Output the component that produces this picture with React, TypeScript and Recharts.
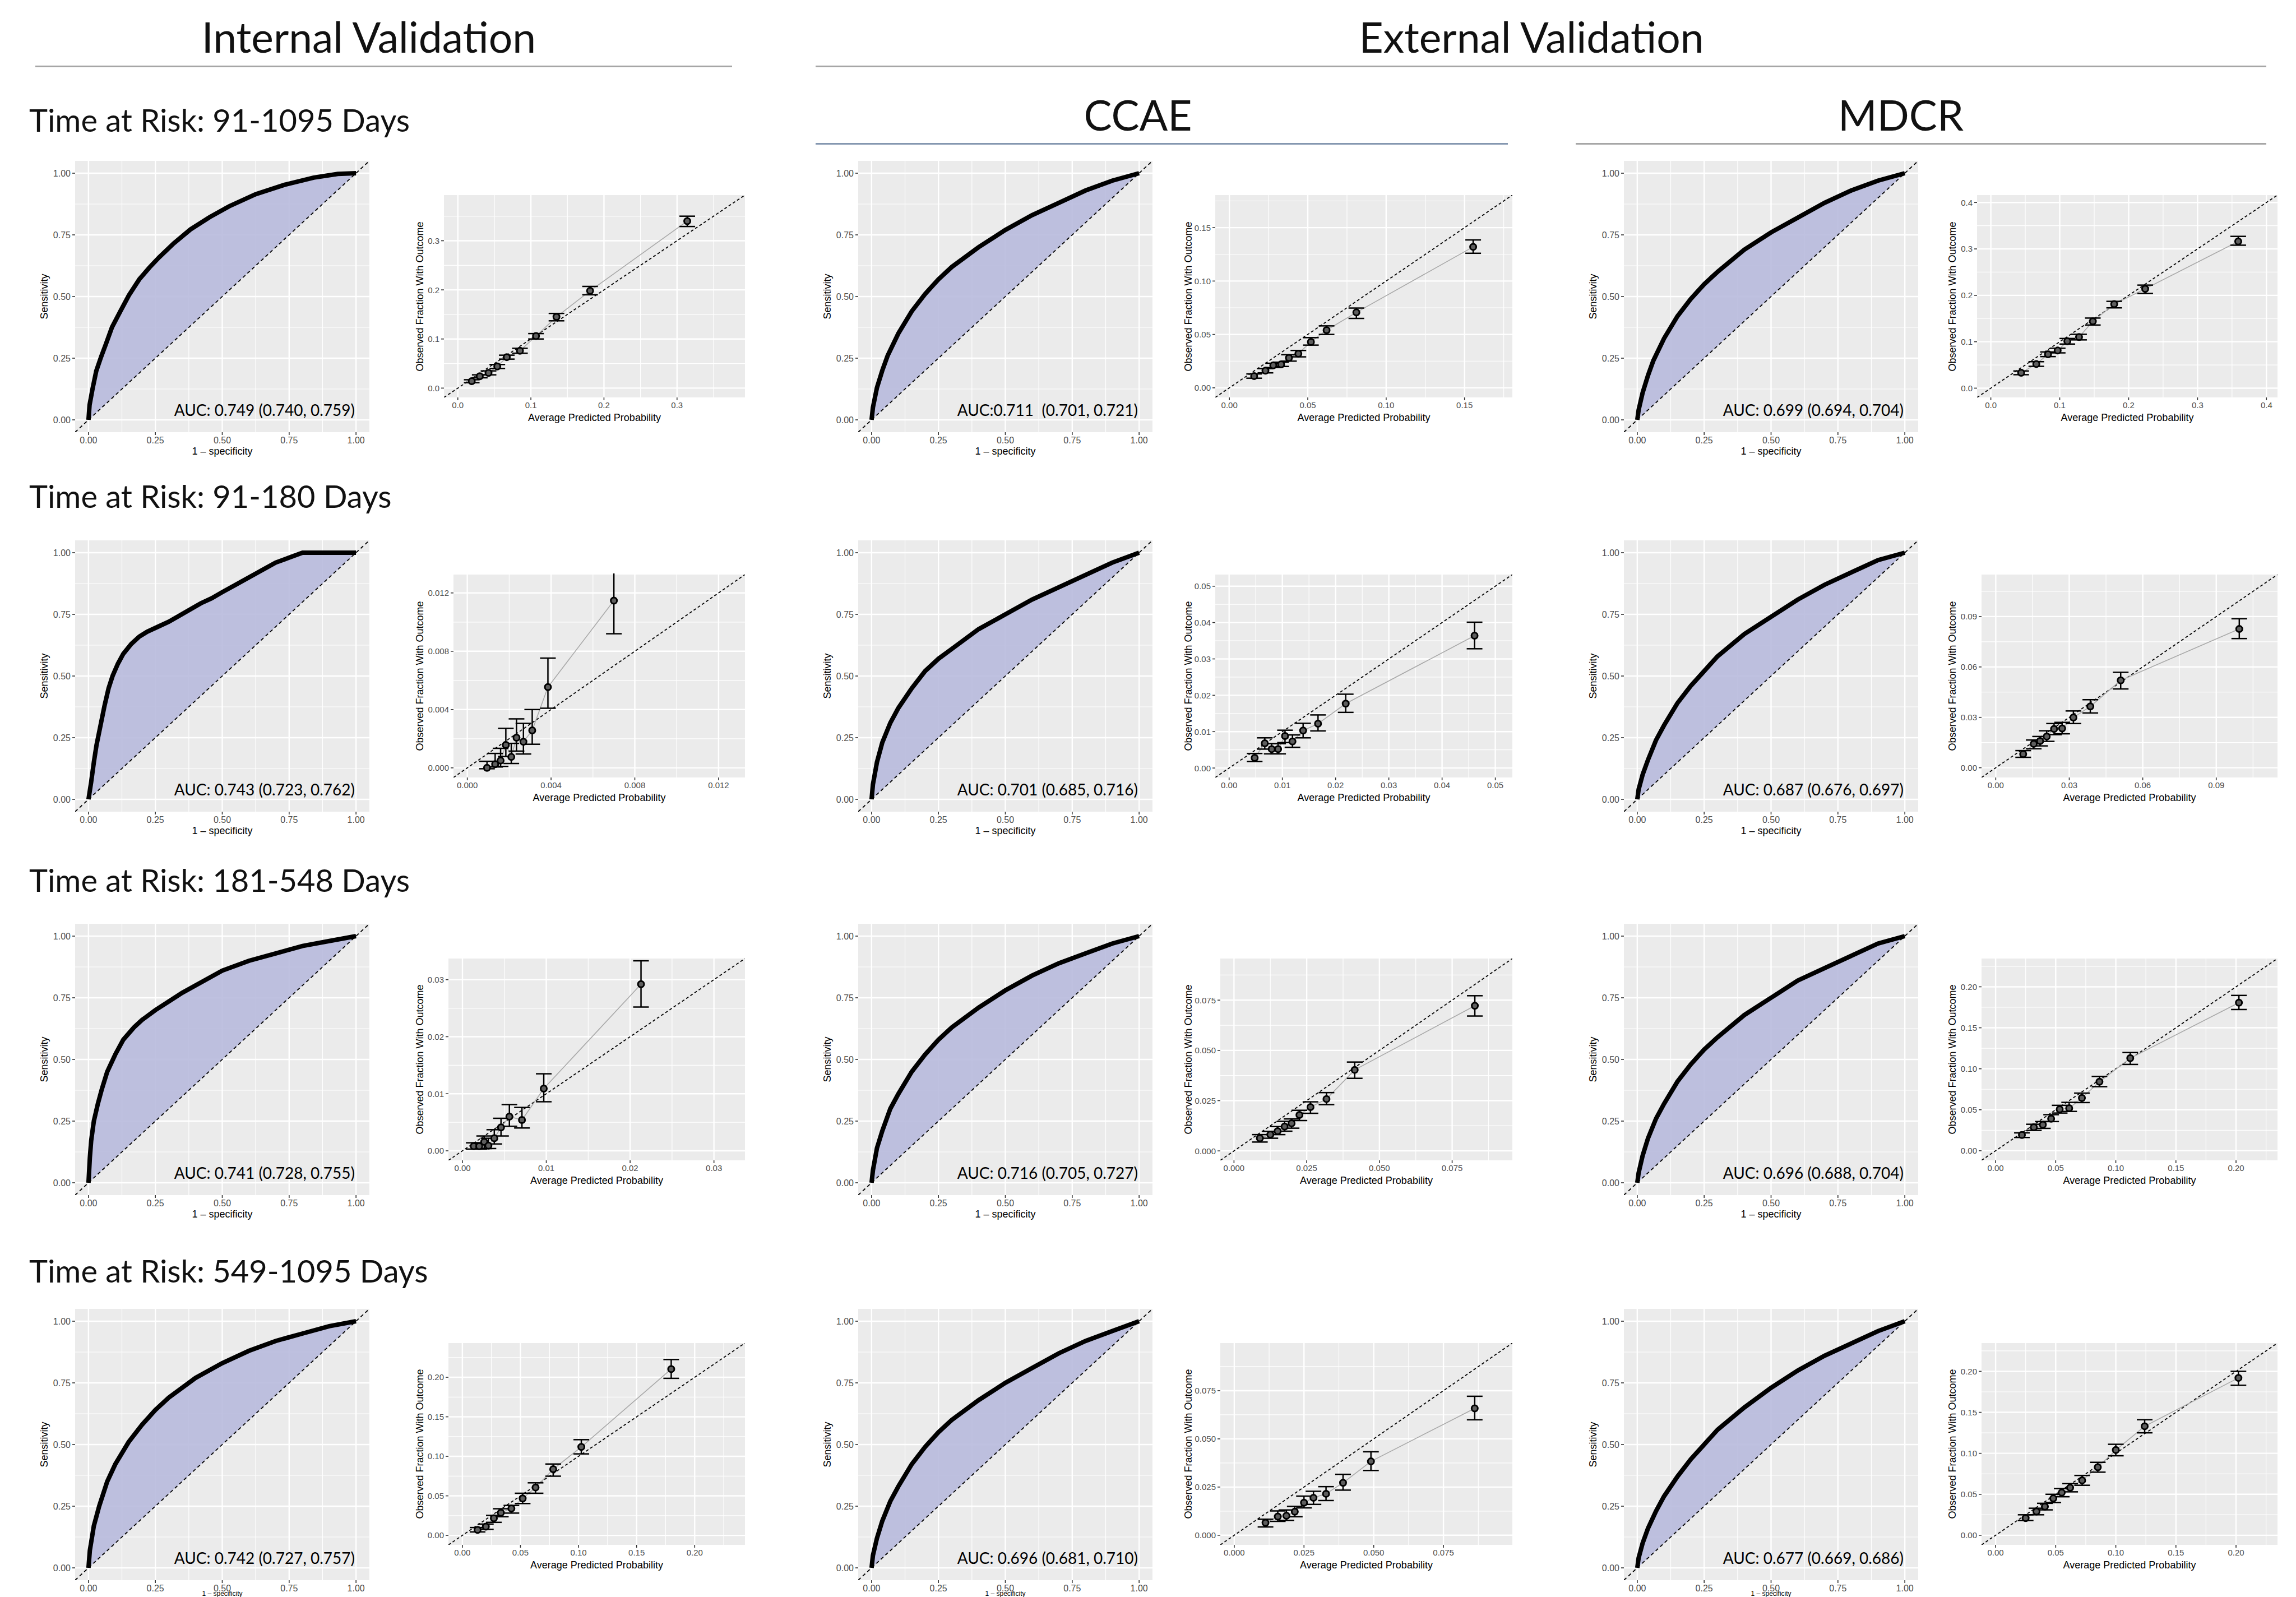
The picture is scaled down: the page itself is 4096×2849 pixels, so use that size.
import React from "react";
import { ComposedChart, Line, Area, Scatter, ErrorBar, XAxis, YAxis, CartesianGrid } from "recharts";

// ROC curves, [1 - specificity, sensitivity]
const rocInt1 = [[0,0],[0.004,0.06],[0.015,0.125],[0.029,0.198],[0.047,0.255],[0.065,0.307],[0.088,0.376],[0.119,0.44],[0.151,0.505],[0.19,0.57],[0.228,0.618],[0.264,0.659],[0.318,0.715],[0.381,0.772],[0.453,0.822],[0.526,0.866],[0.625,0.915],[0.733,0.953],[0.842,0.982],[0.932,0.997],[1,1]];
const rocCcae1 = [[0,0],[0.005,0.05],[0.02,0.13],[0.04,0.2],[0.06,0.26],[0.1,0.35],[0.15,0.44],[0.2,0.51],[0.25,0.57],[0.3,0.62],[0.4,0.7],[0.5,0.77],[0.6,0.83],[0.7,0.88],[0.8,0.93],[0.9,0.97],[1,1]];
const rocMdcr1 = [[0,0],[0.005,0.04],[0.02,0.11],[0.04,0.18],[0.06,0.24],[0.1,0.33],[0.15,0.42],[0.2,0.49],[0.25,0.55],[0.3,0.6],[0.4,0.69],[0.5,0.76],[0.6,0.82],[0.7,0.88],[0.8,0.93],[0.9,0.97],[1,1]];
const rocInt2 = [[0,0],[0.01,0.07],[0.02,0.15],[0.03,0.22],[0.045,0.3],[0.06,0.38],[0.075,0.45],[0.09,0.5],[0.11,0.55],[0.13,0.59],[0.16,0.63],[0.19,0.66],[0.22,0.68],[0.26,0.7],[0.3,0.72],[0.34,0.745],[0.38,0.77],[0.42,0.795],[0.46,0.815],[0.5,0.84],[0.55,0.87],[0.6,0.9],[0.65,0.93],[0.7,0.96],[0.75,0.98],[0.8,1],[1,1]];
const rocCcae2 = [[0,0],[0.005,0.06],[0.02,0.15],[0.04,0.23],[0.07,0.31],[0.1,0.37],[0.15,0.45],[0.2,0.52],[0.25,0.57],[0.3,0.61],[0.4,0.69],[0.5,0.75],[0.6,0.81],[0.7,0.86],[0.8,0.91],[0.9,0.96],[1,1]];
const rocMdcr2 = [[0,0],[0.005,0.04],[0.02,0.1],[0.04,0.16],[0.07,0.24],[0.1,0.3],[0.15,0.39],[0.2,0.46],[0.25,0.52],[0.3,0.58],[0.4,0.67],[0.5,0.74],[0.6,0.81],[0.7,0.87],[0.8,0.92],[0.9,0.97],[1,1]];
const rocInt3 = [[0,0],[0.005,0.1],[0.01,0.17],[0.02,0.25],[0.035,0.32],[0.05,0.38],[0.07,0.45],[0.1,0.52],[0.13,0.58],[0.17,0.63],[0.2,0.66],[0.25,0.7],[0.3,0.735],[0.35,0.77],[0.4,0.8],[0.5,0.86],[0.6,0.9],[0.7,0.93],[0.8,0.96],[0.9,0.98],[1,1]];
const rocCcae3 = [[0,0],[0.005,0.05],[0.02,0.14],[0.04,0.21],[0.07,0.3],[0.1,0.36],[0.15,0.45],[0.2,0.52],[0.25,0.58],[0.3,0.63],[0.4,0.71],[0.5,0.78],[0.6,0.84],[0.7,0.89],[0.8,0.93],[0.9,0.97],[1,1]];
const rocMdcr3 = [[0,0],[0.005,0.04],[0.02,0.11],[0.04,0.18],[0.07,0.26],[0.1,0.32],[0.15,0.41],[0.2,0.48],[0.25,0.54],[0.3,0.59],[0.4,0.68],[0.5,0.75],[0.6,0.82],[0.7,0.87],[0.8,0.92],[0.9,0.97],[1,1]];
const rocInt4 = [[0,0],[0.005,0.07],[0.02,0.17],[0.04,0.25],[0.07,0.35],[0.1,0.42],[0.15,0.51],[0.2,0.58],[0.25,0.64],[0.3,0.69],[0.4,0.77],[0.5,0.83],[0.6,0.88],[0.7,0.92],[0.8,0.95],[0.9,0.98],[1,1]];
const rocCcae4 = [[0,0],[0.005,0.05],[0.02,0.12],[0.04,0.19],[0.07,0.27],[0.1,0.33],[0.15,0.42],[0.2,0.49],[0.25,0.55],[0.3,0.6],[0.4,0.68],[0.5,0.75],[0.6,0.81],[0.7,0.87],[0.8,0.92],[0.9,0.96],[1,1]];
const rocMdcr4 = [[0,0],[0.005,0.04],[0.02,0.1],[0.04,0.16],[0.07,0.23],[0.1,0.29],[0.15,0.37],[0.2,0.44],[0.25,0.5],[0.3,0.56],[0.4,0.65],[0.5,0.73],[0.6,0.8],[0.7,0.86],[0.8,0.91],[0.9,0.96],[1,1]];

const AUC_LABELS = [
  "AUC: 0.749 (0.740, 0.759)", "AUC:0.711  (0.701, 0.721)", "AUC: 0.699 (0.694, 0.704)",
  "AUC: 0.743 (0.723, 0.762)", "AUC: 0.701 (0.685, 0.716)", "AUC: 0.687 (0.676, 0.697)",
  "AUC: 0.741 (0.728, 0.755)", "AUC: 0.716 (0.705, 0.727)", "AUC: 0.696 (0.688, 0.704)",
  "AUC: 0.742 (0.727, 0.757)", "AUC: 0.696 (0.681, 0.710)", "AUC: 0.677 (0.669, 0.686)",
];
const ROW_LABELS = ["Time at Risk: 91-1095 Days", "Time at Risk: 91-180 Days", "Time at Risk: 181-548 Days", "Time at Risk: 549-1095 Days"];

// calibration, [average predicted, observed, lower, upper]
const calInt1 = [[0.019,0.014,0.011,0.017],[0.03,0.024,0.021,0.027],[0.042,0.031,0.027,0.035],[0.054,0.044,0.04,0.048],[0.067,0.063,0.059,0.067],[0.085,0.076,0.071,0.081],[0.107,0.106,0.1,0.111],[0.135,0.145,0.137,0.152],[0.181,0.198,0.19,0.207],[0.314,0.34,0.329,0.35]];
const calCcae1 = [[0.0158,0.011,0.009,0.013],[0.023,0.016,0.014,0.018],[0.028,0.021,0.019,0.023],[0.033,0.022,0.02,0.024],[0.038,0.028,0.025,0.031],[0.044,0.032,0.029,0.035],[0.052,0.043,0.04,0.047],[0.062,0.054,0.05,0.058],[0.081,0.0706,0.065,0.0747],[0.1555,0.132,0.126,0.1385]];
const calMdcr1 = [[0.044,0.033,0.029,0.037],[0.066,0.052,0.047,0.057],[0.083,0.073,0.068,0.078],[0.097,0.081,0.076,0.086],[0.111,0.101,0.095,0.107],[0.128,0.11,0.104,0.116],[0.148,0.144,0.136,0.151],[0.179,0.181,0.173,0.187],[0.224,0.214,0.204,0.222],[0.359,0.316,0.308,0.327]];
const calInt2 = [[0.00094,0,-0.00006,0.00045],[0.00133,0.00025,0.00006,0.00099],[0.00159,0.0005,0.0001,0.00134],[0.00184,0.00157,0.00078,0.00271],[0.0021,0.00075,0.0003,0.00168],[0.00235,0.00207,0.00115,0.00336],[0.00268,0.00179,0.00095,0.00305],[0.0031,0.00257,0.00162,0.004],[0.00385,0.00554,0.00409,0.00753],[0.007,0.01147,0.0092,0.014]];
const calCcae2 = [[0.0048,0.0028,0.0018,0.004],[0.0067,0.0068,0.0052,0.0083],[0.008,0.0052,0.0039,0.0067],[0.0092,0.0052,0.0039,0.0067],[0.0105,0.0088,0.007,0.0104],[0.0119,0.0073,0.0057,0.0091],[0.0139,0.0103,0.0083,0.0123],[0.0167,0.0122,0.0102,0.0146],[0.0219,0.0177,0.0153,0.0203],[0.0461,0.0364,0.0328,0.0401]];
const calMdcr2 = [[0.0112,0.0081,0.0062,0.0102],[0.0155,0.0142,0.0113,0.0165],[0.0181,0.0159,0.013,0.0186],[0.0208,0.0186,0.0157,0.022],[0.0238,0.0231,0.0197,0.0263],[0.0271,0.0234,0.0202,0.027],[0.0317,0.0299,0.0263,0.0338],[0.0386,0.0365,0.0326,0.0405],[0.051,0.052,0.0469,0.0568],[0.0994,0.0826,0.0769,0.0887]];
const calInt3 = [[0.00135,0.0008,0.0003,0.0014],[0.002,0.0008,0.0003,0.0014],[0.0026,0.00156,0.0004,0.0026],[0.0031,0.0009,0.0004,0.0022],[0.0038,0.0022,0.0012,0.0037],[0.0046,0.0041,0.0026,0.0057],[0.0056,0.006,0.0043,0.0081],[0.0071,0.0054,0.004,0.0076],[0.0097,0.0109,0.0086,0.0135],[0.0213,0.0292,0.0252,0.0333]];
const calCcae3 = [[0.0089,0.0063,0.0044,0.0081],[0.0125,0.0081,0.0063,0.0097],[0.015,0.0098,0.0081,0.0121],[0.0174,0.0121,0.0098,0.0147],[0.0198,0.0137,0.0113,0.0159],[0.0225,0.0179,0.0151,0.0202],[0.0263,0.0218,0.0187,0.0244],[0.0318,0.0258,0.023,0.029],[0.0415,0.0403,0.0361,0.0442],[0.0828,0.0722,0.0671,0.0772]];
const calMdcr3 = [[0.0219,0.0192,0.0162,0.0218],[0.0318,0.0287,0.0248,0.0323],[0.0393,0.0317,0.0273,0.0356],[0.0462,0.039,0.0356,0.044],[0.0533,0.0505,0.046,0.0554],[0.0612,0.0519,0.048,0.059],[0.0718,0.0644,0.0588,0.0703],[0.0864,0.0842,0.0782,0.0907],[0.112,0.1129,0.1053,0.1198],[0.2024,0.1806,0.1723,0.1895]];
const calInt4 = [[0.0131,0.007,0.0044,0.0099],[0.0202,0.011,0.0077,0.0143],[0.0271,0.0216,0.0165,0.0253],[0.0331,0.0286,0.0236,0.0337],[0.0422,0.0341,0.0282,0.0379],[0.0519,0.0467,0.0403,0.0533],[0.063,0.0606,0.0533,0.0665],[0.0782,0.0837,0.0749,0.0903],[0.1024,0.1119,0.1031,0.1211],[0.1798,0.2104,0.1987,0.2225]];
const calCcae4 = [[0.0112,0.0065,0.0043,0.0083],[0.0156,0.0097,0.0072,0.0126],[0.0187,0.0101,0.0077,0.0131],[0.0217,0.0122,0.0096,0.015],[0.025,0.0169,0.0142,0.0203],[0.0284,0.0194,0.016,0.0228],[0.0329,0.0215,0.018,0.0252],[0.039,0.0272,0.0234,0.0316],[0.049,0.0383,0.0336,0.0433],[0.0862,0.0658,0.0599,0.0721]];
const calMdcr4 = [[0.025,0.021,0.018,0.025],[0.034,0.029,0.025,0.033],[0.041,0.035,0.031,0.039],[0.048,0.045,0.04,0.05],[0.055,0.052,0.047,0.057],[0.062,0.058,0.053,0.063],[0.072,0.067,0.061,0.073],[0.085,0.083,0.077,0.089],[0.1,0.104,0.097,0.111],[0.124,0.133,0.125,0.141],[0.202,0.192,0.183,0.2]];

// axis domains and tick values of each calibration panel
const CAL_DOMS = [
  [-0.019, 0.393], [-0.009, 0.1805], [-0.02, 0.416],
  [-0.00066, 0.01326], [-0.0026, 0.0532], [-0.0058, 0.115],
  [-0.00167, 0.0337], [-0.0047, 0.0957], [-0.0117, 0.2345],
  [-0.012, 0.2433], [-0.005, 0.0997], [-0.0117, 0.2345],
];
const CAL_TICKS = [
  [0, 0.1, 0.2, 0.3], [0, 0.05, 0.1, 0.15], [0, 0.1, 0.2, 0.3, 0.4],
  [0, 0.004, 0.008, 0.012], [0, 0.01, 0.02, 0.03, 0.04, 0.05], [0, 0.03, 0.06, 0.09],
  [0, 0.01, 0.02, 0.03], [0, 0.025, 0.05, 0.075], [0, 0.05, 0.1, 0.15, 0.2],
  [0, 0.05, 0.1, 0.15, 0.2], [0, 0.025, 0.05, 0.075], [0, 0.05, 0.1, 0.15, 0.2],
];
const CAL_DECIMALS = [1, 2, 1, 3, 2, 2, 2, 3, 2, 2, 3, 2];
const ROC_DOM = [-0.05, 1.05];
const ROC_TICKS = [0, 0.25, 0.5, 0.75, 1];

const ROC_SETS = [rocInt1, rocCcae1, rocMdcr1, rocInt2, rocCcae2, rocMdcr2, rocInt3, rocCcae3, rocMdcr3, rocInt4, rocCcae4, rocMdcr4];
const CAL_SETS = [calInt1, calCcae1, calMdcr1, calInt2, calCcae2, calMdcr2, calInt3, calCcae3, calMdcr3, calInt4, calCcae4, calMdcr4];

// layout (px)
const PAGE_H = 2849;
const ROC_W = 525, ROC_H = 484;
const ROC_LEFTS = [134, 1531, 2897];
const ROC_TOPS = [287, 964, 1648, 2335];
const CAL_TOPS = [348, 1025, 1710, 2396];
const CAL_BOTTOMS = [709, 1387, 2070, 2756];
const CAL_RIGHTS = [1329, 2698, 4063];
const CAL_LEFTS = [[792, 2168, 3527], [809, 2168, 3535], [800, 2177, 3535], [800, 2177, 3535]];
const CAL_YTITLE_X = [749, 2120, 3483];
const AX_L = 60, AX_B = 30, PAD = 2;
const TICK_LEN = 5, TICK_GAP = 3;

const FONT_AX = "'Liberation Sans', Arial, sans-serif";
const FONT_HD = "Lato, 'Open Sans', sans-serif";

const isMajor = (v: number, majors: number[]) => majors.some((m) => Math.abs(m - v) < 1e-9);

const withMinor = (majors: number[], dom: number[]) => {
  const step = majors[1] - majors[0];
  const out = [...majors];
  for (let k = Math.floor(dom[0] / step) - 1; k * step < dom[1] + step; k++) {
    const m = +((k + 0.5) * step).toFixed(9);
    if (m > dom[0] && m < dom[1]) out.push(m);
  }
  return out.sort((a, b) => a - b);
};

const makeTick = (axis: string, majors: number[], dec: number, fs: number) => (p: any) => {
  const v = p.payload.value;
  if (!isMajor(v, majors)) return <g />;
  if (axis === "x") {
    return (
      <g>
        <line x1={p.x} x2={p.x} y1={p.y - TICK_GAP - TICK_LEN} y2={p.y - TICK_GAP} stroke="#333" strokeWidth={1.6} />
        <text x={p.x} y={p.y} dy="0.75em" textAnchor="middle" fontSize={fs} fill="#4D4D4D" fontFamily={FONT_AX}>{v.toFixed(dec)}</text>
      </g>
    );
  }
  return (
    <g>
      <line x1={p.x + TICK_GAP} x2={p.x + TICK_GAP + TICK_LEN} y1={p.y} y2={p.y} stroke="#333" strokeWidth={1.6} />
      <text x={p.x} y={p.y} dy="0.36em" textAnchor="end" fontSize={fs} fill="#4D4D4D" fontFamily={FONT_AX}>{v.toFixed(dec)}</text>
    </g>
  );
};

const makeGridLine = (ticks: number[], majors: number[]) => (p: any) => {
  const v = ticks[p.index];
  if (v === undefined) return <g key={p.key} />;
  return <line key={p.key} x1={p.x1} y1={p.y1} x2={p.x2} y2={p.y2} stroke="#FFFFFF" strokeWidth={isMajor(v, majors) ? 2.4 : 1.2} />;
};

const Txt = ({ x, y, size, font, rotate, anchor = "center", children, color = "#000" }: any) => {
  const tx = anchor === "left" ? "0" : anchor === "right" ? "-100%" : "-50%";
  return (
    <div style={{ position: "absolute", left: x, top: y, transform: `translate(${tx},-50%)${rotate ? " rotate(-90deg)" : ""}`, whiteSpace: "pre", fontSize: size, fontFamily: font, color, lineHeight: 1 }}>
      {children}
    </div>
  );
};

function RocPanel({ pts, left, top, auc }: any) {
  const data = pts.map(([f, s]: number[]) => ({ x: f, sens: s, band: [f, s] }));
  const diag = ROC_DOM.map((d) => ({ x: d, y: d }));
  const ticks = withMinor(ROC_TICKS, ROC_DOM);
  // the bottom row's x title sits at the page edge: keep it inside, a bit smaller
  const fits = top + ROC_H + 34 + 10 <= PAGE_H;
  const xTitleY = fits ? top + ROC_H + 34 : PAGE_H - 6;
  const xTitleSize = fits ? 18 : 12;
  return (
    <>
      <div style={{ position: "absolute", left: left - AX_L, top: top - PAD }}>
        <ComposedChart width={AX_L + ROC_W + PAD} height={PAD + ROC_H + AX_B} margin={{ top: PAD, right: PAD, bottom: 0, left: 0 }}>
          <CartesianGrid fill="#EBEBEB" fillOpacity={1} stroke="none" horizontal={makeGridLine(ticks, ROC_TICKS)} vertical={makeGridLine(ticks, ROC_TICKS)} />
          <XAxis type="number" dataKey="x" domain={ROC_DOM} allowDataOverflow ticks={ticks} interval={0} axisLine={false} tickLine={false} tickSize={TICK_LEN} tickMargin={TICK_GAP} height={AX_B} tick={makeTick("x", ROC_TICKS, 2, 16)} />
          <YAxis type="number" domain={ROC_DOM} allowDataOverflow ticks={ticks} interval={0} axisLine={false} tickLine={false} tickSize={TICK_LEN} tickMargin={TICK_GAP} width={AX_L} tick={makeTick("y", ROC_TICKS, 2, 16)} />
          <Area data={data} dataKey="band" type="linear" stroke="none" fill="#B8BADD" fillOpacity={0.9} isAnimationActive={false} />
          <Line data={diag} dataKey="y" stroke="#000" strokeWidth={1.8} strokeDasharray="6 5" dot={false} isAnimationActive={false} />
          <Line data={data} dataKey="sens" stroke="#000" strokeWidth={8} dot={false} isAnimationActive={false} />
        </ComposedChart>
      </div>
      <Txt x={left - 55} y={top + ROC_H / 2} size={18} font={FONT_AX} rotate>Sensitivity</Txt>
      <Txt x={left + ROC_W / 2} y={xTitleY} size={xTitleSize} font={FONT_AX}>1 – specificity</Txt>
      <Txt x={left + 499} y={top + 444} size={28} font={FONT_HD} anchor="right">{auc}</Txt>
    </>
  );
}

function CalPanel({ pts, dom, majors, dec, left, top, right, bottom, titleX }: any) {
  const data = pts.map(([x, y, lo, hi]: number[]) => ({ x, y, err: [y - lo, hi - y] }));
  const diag = dom.map((d: number) => ({ x: d, y: d }));
  const ticks = withMinor(majors, dom);
  const w = right - left, h = bottom - top;
  return (
    <>
      <div style={{ position: "absolute", left: left - AX_L, top: top - PAD }}>
        <ComposedChart width={AX_L + w + PAD} height={PAD + h + AX_B} margin={{ top: PAD, right: PAD, bottom: 0, left: 0 }}>
          <CartesianGrid fill="#EBEBEB" fillOpacity={1} stroke="none" horizontal={makeGridLine(ticks, majors)} vertical={makeGridLine(ticks, majors)} />
          <XAxis type="number" dataKey="x" domain={dom} allowDataOverflow ticks={ticks} interval={0} axisLine={false} tickLine={false} tickSize={TICK_LEN} tickMargin={TICK_GAP} height={AX_B} tick={makeTick("x", majors, dec, 15)} />
          <YAxis type="number" domain={dom} allowDataOverflow ticks={ticks} interval={0} axisLine={false} tickLine={false} tickSize={TICK_LEN} tickMargin={TICK_GAP} width={AX_L} tick={makeTick("y", majors, dec, 15)} />
          <Line data={diag} dataKey="y" stroke="#000" strokeWidth={1.8} strokeDasharray="5 4" dot={false} isAnimationActive={false} />
          <Line data={data} dataKey="y" stroke="#A9A9A9" strokeWidth={1.6} dot={false} isAnimationActive={false} />
          <Scatter data={data} dataKey="y" isAnimationActive={false} shape={(p: any) => <circle cx={p.cx} cy={p.cy} r={5.5} fill="#5E5E5E" stroke="#000" strokeWidth={3} />}>
            <ErrorBar dataKey="err" direction="y" width={14} stroke="#000" strokeWidth={2.5} />
          </Scatter>
        </ComposedChart>
      </div>
      <Txt x={titleX} y={(top + bottom) / 2} size={18} font={FONT_AX} rotate>Observed Fraction With Outcome</Txt>
      <Txt x={(left + right) / 2} y={bottom + 36} size={18} font={FONT_AX}>Average Predicted Probability</Txt>
    </>
  );
}

const Rule = ({ x1, x2, y, color }: any) => (
  <div style={{ position: "absolute", left: x1, top: y - 1, width: x2 - x1, height: 2.5, background: color }} />
);

export default function App() {
  const ROW_LABEL_Y = [214, 885, 1570, 2267];
  return (
    <div style={{ position: "absolute", left: 0, top: 0, width: 4096, height: PAGE_H, background: "#fff", overflow: "hidden" }}>
      <Txt x={658} y={65} size={75} font={FONT_HD} color="#111">Internal Validation</Txt>
      <Txt x={2732} y={65} size={75} font={FONT_HD} color="#111">External Validation</Txt>
      <Rule x1={63} x2={1306} y={118} color="#A6A6A6" />
      <Rule x1={1455} x2={4043} y={118} color="#A6A6A6" />
      <Txt x={2030} y={204} size={75} font={FONT_HD} color="#111">CCAE</Txt>
      <Txt x={3391} y={204} size={75} font={FONT_HD} color="#111">MDCR</Txt>
      <Rule x1={1455} x2={2690} y={256} color="#8497B0" />
      <Rule x1={2811} x2={4043} y={256} color="#A6A6A6" />
      {ROW_LABELS.map((t, r) => (
        <Txt key={t} x={52} y={ROW_LABEL_Y[r]} size={56} font={FONT_HD} anchor="left" color="#111">{t}</Txt>
      ))}
      {ROC_SETS.map((pts, i) => {
        const r = Math.floor(i / 3), c = i % 3;
        return <RocPanel key={`roc${i}`} pts={pts} left={ROC_LEFTS[c]} top={ROC_TOPS[r]} auc={AUC_LABELS[i]} />;
      })}
      {CAL_SETS.map((pts, i) => {
        const r = Math.floor(i / 3), c = i % 3;
        return (
          <CalPanel key={`cal${i}`} pts={pts} dom={CAL_DOMS[i]} majors={CAL_TICKS[i]} dec={CAL_DECIMALS[i]}
            left={CAL_LEFTS[r][c]} right={CAL_RIGHTS[c]} top={CAL_TOPS[r]} bottom={CAL_BOTTOMS[r]} titleX={CAL_YTITLE_X[c]} />
        );
      })}
    </div>
  );
}
